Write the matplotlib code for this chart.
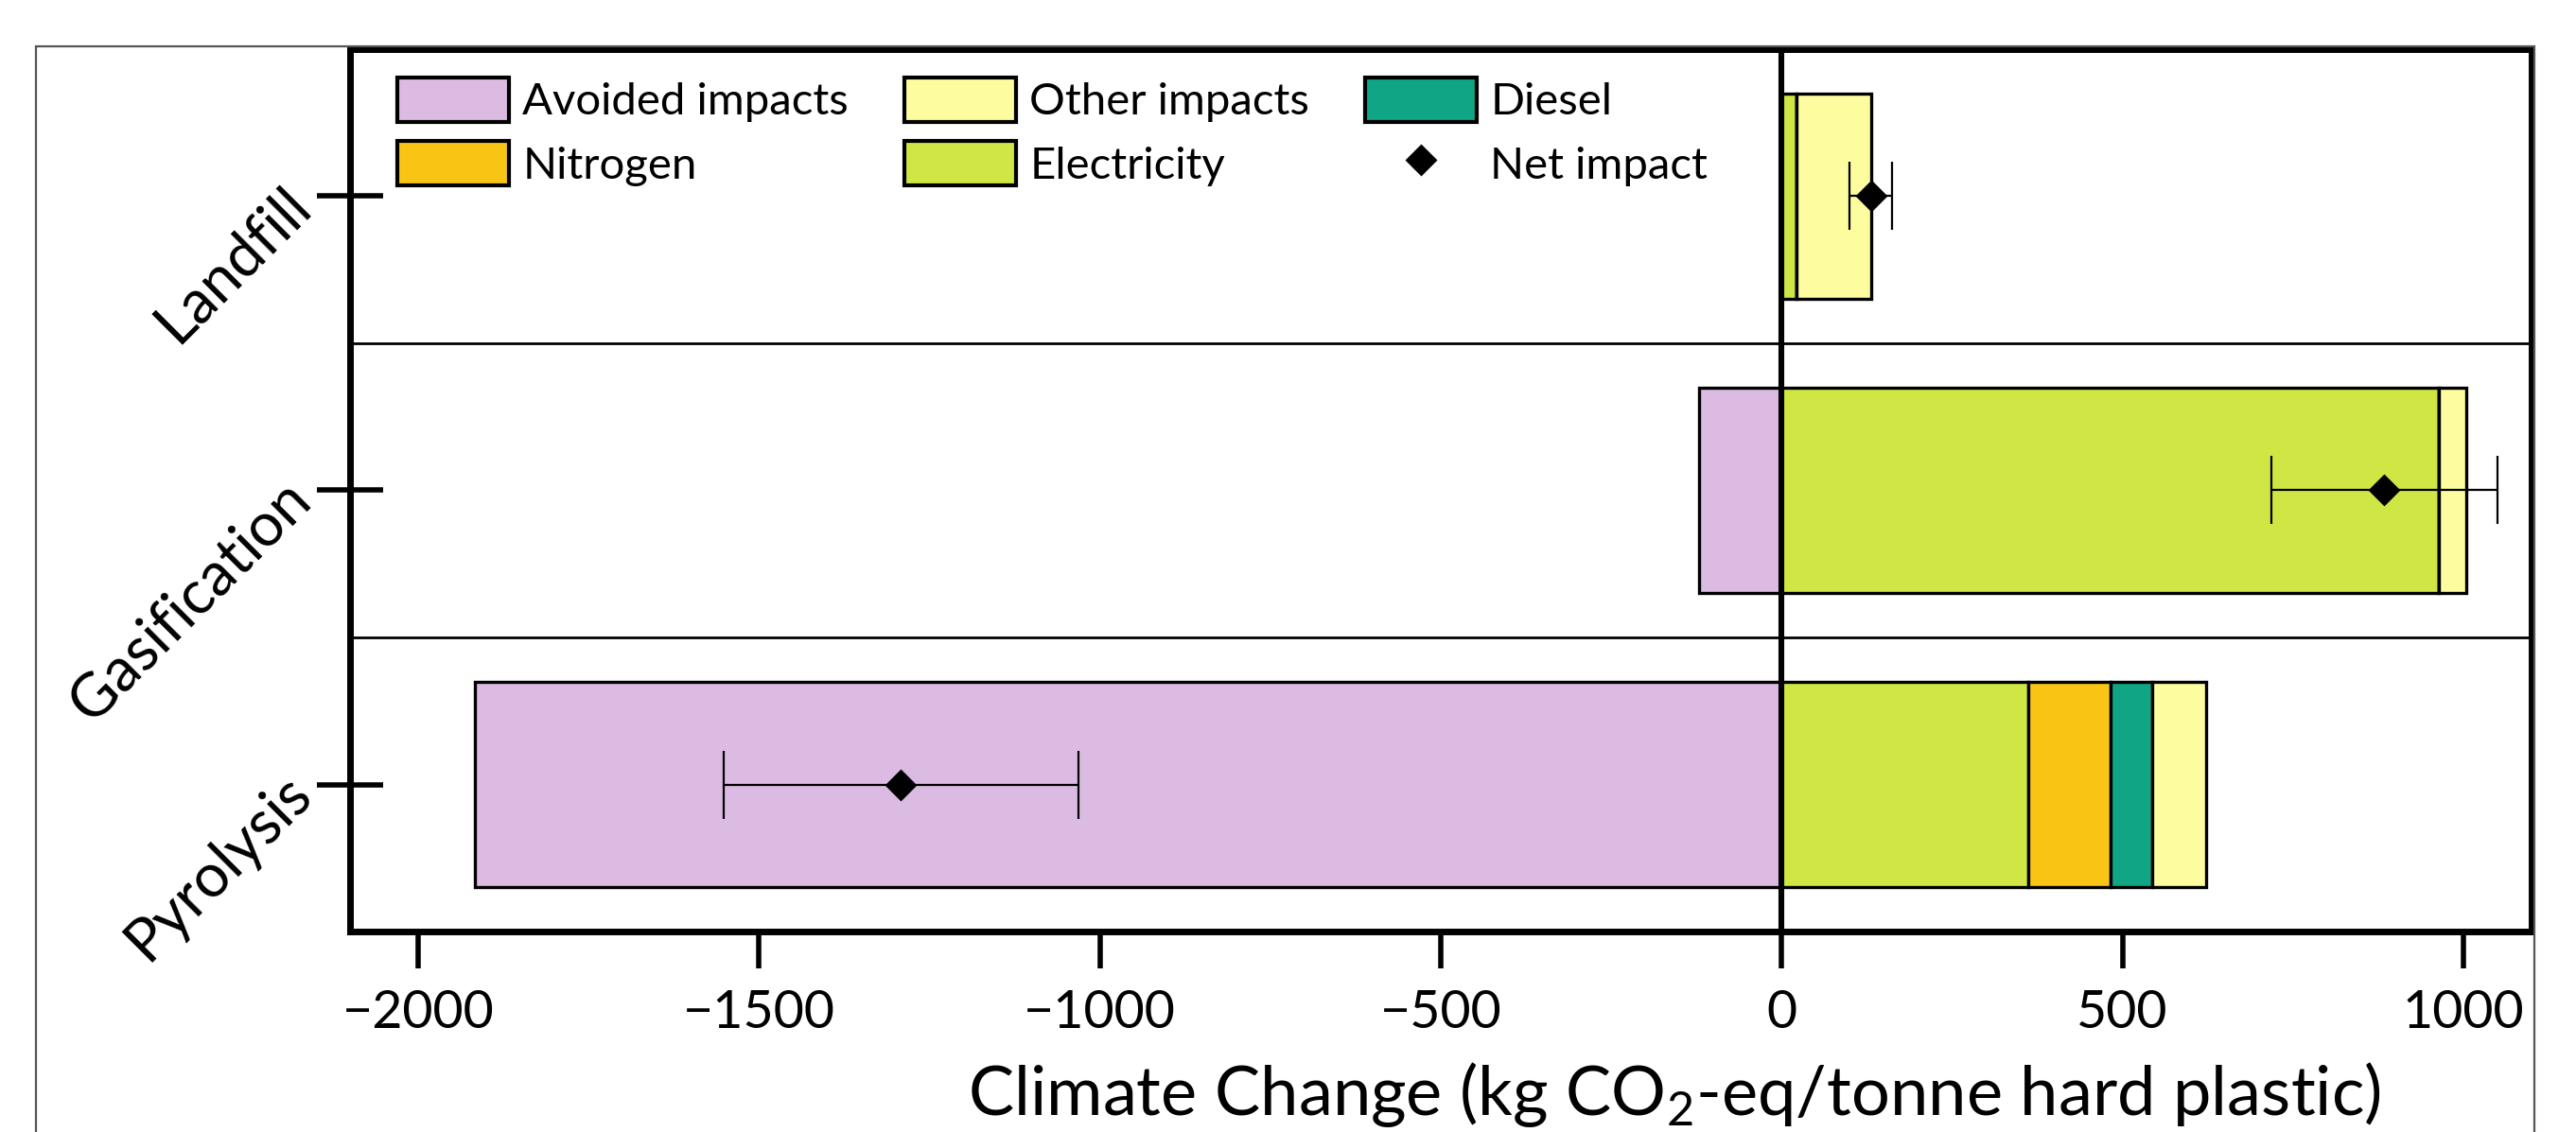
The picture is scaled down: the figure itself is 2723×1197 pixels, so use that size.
import matplotlib
matplotlib.use('Agg')
import matplotlib.pyplot as plt
from matplotlib.patches import Patch, Rectangle
from matplotlib.lines import Line2D
import numpy as np

plt.rcParams['font.family'] = ['Lato', 'DejaVu Sans']
plt.rcParams['mathtext.fontset'] = 'custom'
plt.rcParams['mathtext.rm'] = 'Lato'
plt.rcParams['mathtext.it'] = 'Lato:italic'
plt.rcParams['axes.unicode_minus'] = True

# Datos (kg CO2-eq / tonne hard plastic)
processes = ['Pyrolysis', 'Gasification', 'Landfill']
avoided = np.array([-1917, -121, 0])
electricity = np.array([362, 964, 22])
nitrogen = np.array([121, 0, 0])
diesel = np.array([60, 0, 0])
other = np.array([80, 41, 110])
net = np.array([-1293, 884, 132])
err_low = np.array([259, 166, 32])
err_high = np.array([262, 166, 30])
xticks = [-2000, -1500, -1000, -500, 0, 500, 1000]

c_avoided = '#DCBBE3'
c_other = '#FDFDA0'
c_diesel = '#10A585'
c_nitrogen = '#F9C515'
c_elec = '#CFE644'

fig = plt.figure(figsize=(13.615, 5.985), dpi=200)
ax = fig.add_axes([0.1359, 0.1771, 0.8468, 0.7795])

y = np.arange(len(processes))
h = 0.7
bar_kw = dict(height=h, edgecolor='black', linewidth=1.2, zorder=2)

ax.barh(y, avoided, color=c_avoided, **bar_kw)
ax.barh(y, electricity, color=c_elec, **bar_kw)
ax.barh(y, nitrogen, left=electricity, color=c_nitrogen, **bar_kw)
ax.barh(y, diesel, left=electricity + nitrogen, color=c_diesel, **bar_kw)
ax.barh(y, other, left=electricity + nitrogen + diesel, color=c_other, **bar_kw)

# Impacto neto con barras de error
ax.errorbar(net, y, xerr=[err_low, err_high], fmt='D', color='black',
            markersize=7.5, capsize=13, elinewidth=0.8, capthick=0.8, zorder=6)

# Lineas de referencia
ax.axvline(0, color='black', linewidth=2.2, zorder=5)
for sep in [0.5, 1.5]:
    ax.axhline(sep, color='black', linewidth=1.0, zorder=1)

ax.set_xlim(-2100, 1100)
ax.set_ylim(-0.5, 2.5)
ax.set_xticks(xticks)
ax.set_yticks(y)
ax.set_yticklabels(processes, rotation=45, ha='right', va='center',
                   rotation_mode='anchor', fontsize=23)
ax.tick_params(axis='x', direction='out', length=14, width=2, labelsize=20, pad=8)
ax.tick_params(axis='y', direction='inout', length=25, width=2, pad=6)
for s in ax.spines.values():
    s.set_linewidth(2.5)

ax.set_xlabel('Climate Change (kg CO$_2$-eq/tonne hard plastic)', fontsize=26,
              va='baseline')
ax.xaxis.set_label_coords(0.607, -0.208)

# Leyenda
handles = [
    Patch(facecolor=c_avoided, edgecolor='black', linewidth=1.5),
    Patch(facecolor=c_nitrogen, edgecolor='black', linewidth=1.5),
    Patch(facecolor=c_other, edgecolor='black', linewidth=1.5),
    Patch(facecolor=c_elec, edgecolor='black', linewidth=1.5),
    Patch(facecolor=c_diesel, edgecolor='black', linewidth=1.5),
    Line2D([], [], marker='D', color='black', linestyle='none', markersize=7.5),
]
labels = ['Avoided impacts', 'Nitrogen', 'Other impacts', 'Electricity',
          'Diesel', 'Net impact']
ax.legend(handles, labels, ncol=3, loc='upper left', bbox_to_anchor=(0.0217, 0.968),
          frameon=False, fontsize=17, handlelength=2.5, handleheight=1.15,
          handletextpad=0.3, columnspacing=1.25, labelspacing=0.42,
          borderpad=0, borderaxespad=0)

# Marco exterior fino
fig.patches.append(Rectangle((0.014, -0.05), 0.970, 1.009, transform=fig.transFigure,
                             fill=False, edgecolor='#555555', linewidth=0.8))

fig.savefig('out.png', dpi=200)
